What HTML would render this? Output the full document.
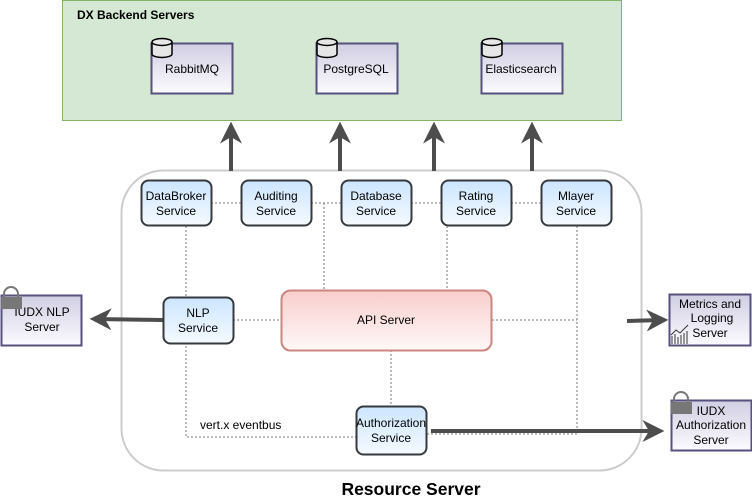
<!DOCTYPE html>
<html><head><meta charset="utf-8"><style>
html,body{margin:0;padding:0;background:#fff;}
svg{display:block;font-family:"Liberation Sans",Arial,sans-serif;}
</style></head><body>
<svg width="752" height="501" viewBox="0 0 752 501" xmlns="http://www.w3.org/2000/svg">
<defs>
<linearGradient id="pg" x1="0" y1="0" x2="0" y2="1"><stop offset="0" stop-color="#d0cee2"/><stop offset="1" stop-color="#fcfbff"/></linearGradient>
<linearGradient id="bg" x1="0" y1="0" x2="0" y2="1"><stop offset="0" stop-color="#cce5ff"/><stop offset="1" stop-color="#f5faff"/></linearGradient>
<linearGradient id="rg" x1="0" y1="0" x2="0" y2="1"><stop offset="0" stop-color="#f8cecc"/><stop offset="1" stop-color="#fff8f8"/></linearGradient>
<marker id="ah2" viewBox="0 0 10 10" markerWidth="22" markerHeight="22" refX="8" refY="5" orient="auto" markerUnits="userSpaceOnUse"><path d="M0,0 L10,5 L0,10 L3,5 Z" fill="#4d4d4d"/></marker>
</defs>
<rect x="62.5" y="0.5" width="559" height="120" fill="#d5e8d4" stroke="#82b366"/>
<text x="77" y="19" font-size="12" font-weight="bold">DX Backend Servers</text>
<g font-size="12" text-anchor="middle">
<rect x="151.5" y="43.5" width="81" height="50" fill="url(#pg)" stroke="#56517e" stroke-width="2"/>
<text x="192" y="73">RabbitMQ</text>
<rect x="316.5" y="43.5" width="81" height="50" fill="url(#pg)" stroke="#56517e" stroke-width="2"/>
<text x="356" y="73">PostgreSQL</text>
<rect x="481.5" y="43.5" width="81" height="50" fill="url(#pg)" stroke="#56517e" stroke-width="2"/>
<text x="521" y="73">Elasticsearch</text>
</g>
<g fill="#e6e6e6" stroke="#000" stroke-width="1.5">
<path d="M152,42 v12 a10,3.5 0 0 0 20,0 v-12"/><ellipse cx="162" cy="42" rx="10" ry="3.5"/>
<path d="M317,42 v12 a10,3.5 0 0 0 20,0 v-12"/><ellipse cx="327" cy="42" rx="10" ry="3.5"/>
<path d="M482,42 v12 a10,3.5 0 0 0 20,0 v-12"/><ellipse cx="492" cy="42" rx="10" ry="3.5"/>
</g>
<rect x="121.5" y="170.5" width="520" height="300" rx="42" fill="#fff" stroke="#cccccc" stroke-width="2"/>
<g stroke="#4d4d4d" stroke-width="4" marker-end="url(#ah2)">
<line x1="231" y1="171" x2="231" y2="126"/>
<line x1="340" y1="171" x2="340" y2="126"/>
<line x1="434" y1="171" x2="434" y2="126"/>
<line x1="532" y1="171" x2="532" y2="126"/>
</g>
<g stroke="#777" stroke-width="1" stroke-dasharray="2,2" fill="none">
<line x1="211" y1="203" x2="241" y2="203"/>
<line x1="311" y1="203" x2="341" y2="203"/>
<line x1="411" y1="203" x2="441" y2="203"/>
<line x1="511" y1="203" x2="541" y2="203"/>
<line x1="324" y1="203" x2="324" y2="290"/>
<line x1="447" y1="226" x2="447" y2="290"/>
<polyline points="186,226 186,437 356,437"/>
<polyline points="577,226 577,434 427,434"/>
<line x1="233" y1="320" x2="281" y2="320"/>
<line x1="492" y1="320" x2="577" y2="320"/>
<line x1="391" y1="350" x2="391" y2="407"/>
</g>
<g stroke="#4d4d4d" stroke-width="4" marker-end="url(#ah2)">
<line x1="163" y1="320" x2="94" y2="319"/>
<line x1="627" y1="321" x2="664" y2="320"/>
<line x1="431" y1="431" x2="660" y2="431"/>
</g>
<g font-size="12" text-anchor="middle" stroke-width="2">
<rect x="141.5" y="180.5" width="70" height="45" rx="7" fill="url(#bg)" stroke="#36393d"/>
<text x="176" y="200" stroke="none">DataBroker</text><text x="176" y="215" stroke="none">Service</text>
<rect x="241.5" y="180.5" width="70" height="45" rx="7" fill="url(#bg)" stroke="#36393d"/>
<text x="276" y="200" stroke="none">Auditing</text><text x="276" y="215" stroke="none">Service</text>
<rect x="341.5" y="180.5" width="70" height="45" rx="7" fill="url(#bg)" stroke="#36393d"/>
<text x="376" y="200" stroke="none">Database</text><text x="376" y="215" stroke="none">Service</text>
<rect x="441.5" y="180.5" width="70" height="45" rx="7" fill="url(#bg)" stroke="#36393d"/>
<text x="476" y="200" stroke="none">Rating</text><text x="476" y="215" stroke="none">Service</text>
<rect x="541.5" y="180.5" width="70" height="45" rx="7" fill="url(#bg)" stroke="#36393d"/>
<text x="576" y="200" stroke="none">Mlayer</text><text x="576" y="215" stroke="none">Service</text>
<rect x="163.5" y="297.5" width="70" height="46" rx="7" fill="url(#bg)" stroke="#36393d"/>
<text x="198" y="317" stroke="none">NLP</text><text x="198" y="332" stroke="none">Service</text>
<rect x="281.5" y="290.5" width="210" height="60" rx="9" fill="url(#rg)" stroke="#cc8580"/>
<text x="386" y="324" stroke="none">API Server</text>
<rect x="356.5" y="406.5" width="70" height="48" rx="7" fill="url(#bg)" stroke="#36393d"/>
<text x="391" y="427" stroke="none">Authorization</text><text x="391" y="442" stroke="none">Service</text>
</g>
<text x="200" y="429" font-size="12">vert.x eventbus</text>
<g font-size="12" text-anchor="middle">
<rect x="1.5" y="295.5" width="80" height="50" fill="url(#pg)" stroke="#56517e" stroke-width="2"/>
<text x="42" y="316">IUDX NLP</text><text x="42" y="331">Server</text>
<rect x="669.5" y="294.5" width="81" height="51" fill="url(#pg)" stroke="#56517e" stroke-width="2"/>
<text x="710" y="308">Metrics and</text><text x="712" y="322">Logging</text><text x="710" y="337">Server</text>
<rect x="671.5" y="400.5" width="80" height="50" fill="url(#pg)" stroke="#56517e" stroke-width="2"/>
<text x="711" y="415">IUDX</text><text x="711" y="429">Authorization</text><text x="711" y="444">Server</text>
</g>
<g fill="#777">
<path d="M4,298 v-4 a7,7 0 0 1 14,0 v4" fill="none" stroke="#777" stroke-width="2"/>
<rect x="1" y="297" width="21" height="12"/>
<path d="M674,403 v-4 a7,7 0 0 1 14,0 v4" fill="none" stroke="#777" stroke-width="2"/>
<rect x="671" y="402" width="21" height="12"/>
</g>
<g stroke="#333" stroke-width="1" fill="none">
<polyline points="671,335 676,330 680,333 688,325"/>
<line x1="672" y1="344" x2="672" y2="336"/><line x1="675" y1="344" x2="675" y2="334"/><line x1="678" y1="344" x2="678" y2="337"/><line x1="681" y1="344" x2="681" y2="335"/><line x1="684" y1="344" x2="684" y2="333"/><line x1="687" y1="344" x2="687" y2="331"/>
</g>
<text x="411" y="495" font-size="17.5" font-weight="bold" text-anchor="middle">Resource Server</text>
</svg>
</body></html>
